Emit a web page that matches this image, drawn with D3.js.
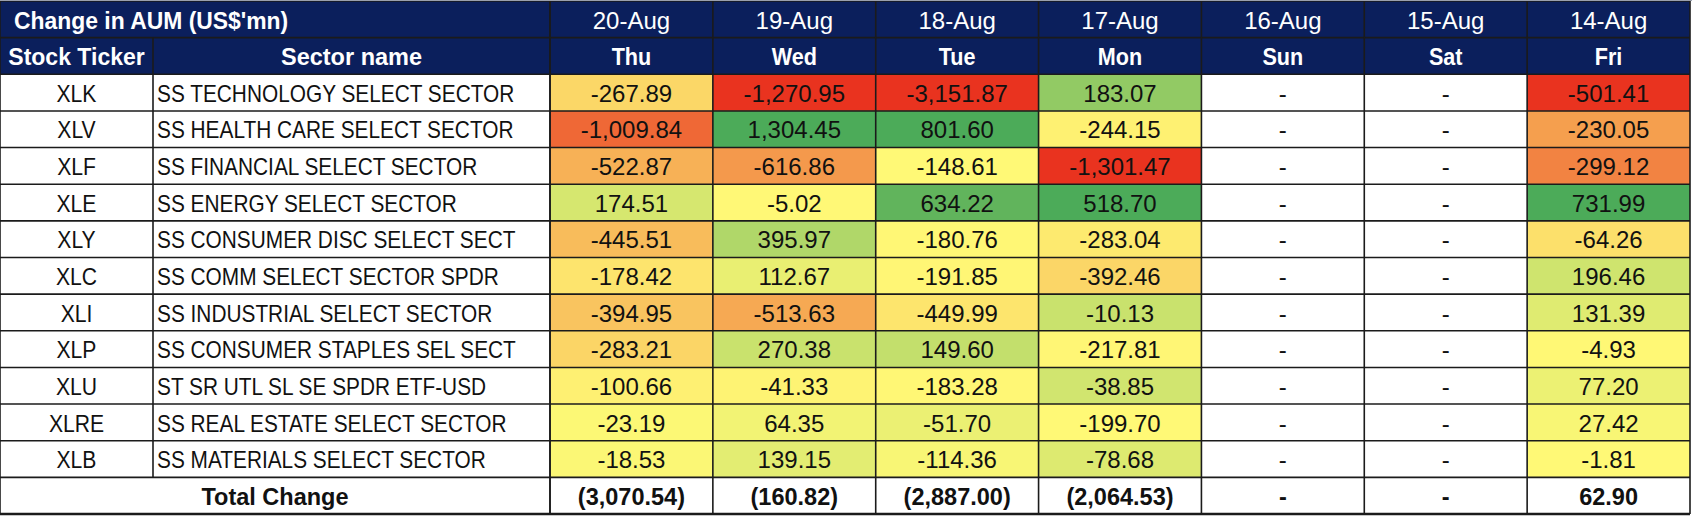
<!DOCTYPE html>
<html>
<head>
<meta charset="utf-8">
<script src="https://cdn.jsdelivr.net/npm/d3@7"></script>
<style>
  body { margin: 0; background: #fff; }
  svg text { font-family: "Liberation Sans", Arial, sans-serif; }
</style>
</head>
<body>
<svg width="1692" height="526"></svg>
<script>
const tickers = ["XLK","XLV","XLF","XLE","XLY","XLC","XLI","XLP","XLU","XLRE","XLB"];
const sectors = [
  "SS TECHNOLOGY SELECT SECTOR",
  "SS HEALTH CARE SELECT SECTOR",
  "SS FINANCIAL SELECT SECTOR",
  "SS ENERGY SELECT SECTOR",
  "SS CONSUMER DISC SELECT SECT",
  "SS COMM SELECT SECTOR SPDR",
  "SS INDUSTRIAL SELECT SECTOR",
  "SS CONSUMER STAPLES SEL SECT",
  "ST SR UTL SL SE SPDR ETF-USD",
  "SS REAL ESTATE SELECT SECTOR",
  "SS MATERIALS SELECT SECTOR"
];
const dates = ["20-Aug","19-Aug","18-Aug","17-Aug","16-Aug","15-Aug","14-Aug"];
const weekdays = ["Thu","Wed","Tue","Mon","Sun","Sat","Fri"];

// change in AUM, US$ mn, one array per day (rows follow tickers)
const aug20 = [-267.89, -1009.84, -522.87, 174.51, -445.51, -178.42, -394.95, -283.21, -100.66, -23.19, -18.53];
const aug19 = [-1270.95, 1304.45, -616.86, -5.02, 395.97, 112.67, -513.63, 270.38, -41.33, 64.35, 139.15];
const aug18 = [-3151.87, 801.60, -148.61, 634.22, -180.76, -191.85, -449.99, 149.60, -183.28, -51.70, -114.36];
const aug17 = [183.07, -244.15, -1301.47, 518.70, -283.04, -392.46, -10.13, -217.81, -38.85, -199.70, -78.68];
const aug16 = [null, null, null, null, null, null, null, null, null, null, null];
const aug15 = [null, null, null, null, null, null, null, null, null, null, null];
const aug14 = [-501.41, -230.05, -299.12, 731.99, -64.26, 196.46, 131.39, -4.93, 77.20, 27.42, -1.81];
const totals = [-3070.54, -160.82, -2887.00, -2064.53, null, null, 62.90];

// colour scale stops per day column (low / mid / high)
const scaleLow  = [-1365, -1270.95, -3151.87, -1301.47, null, null, -501.41];
const scaleMid  = [-40, 0, -148.61, -199.70, null, null, -1.81];
const scaleHigh = [893, 900, 740, 430, null, null, 731.99];

const columns = [aug20, aug19, aug18, aug17, aug16, aug15, aug14];

const navy = "#0b1f5c";
const lineCol = "#1b1b1b";
const ink = "#111";

const locale = d3.formatLocale({decimal: ".", thousands: ",", grouping: [3], currency: ["$", ""], minus: "-"});
const fmt = locale.format(",.2f");
const fmtTotal = v => v == null ? "-" : (v < 0 ? "(" + fmt(-v) + ")" : fmt(v));

const svg = d3.select("svg");

const rowKeys = ["head1", "head2"].concat(tickers, ["total"]);
const y = d3.scaleBand().domain(rowKeys).range([1, 514]);
const x = d3.scaleBand().domain(dates).range([550, 1690]);
const tickX = [0, 153];
const secX = [153, 550];
const rh = y.bandwidth();
const base = 27.5; // baseline offset inside a row

const colour = j => d3.scaleLinear()
  .domain([scaleLow[j], scaleMid[j], scaleHigh[j]])
  .range(["#e9331f", "#fff976", "#4cab59"])
  .clamp(true);

// text helper: sx squeezes the glyphs to get the narrow look
function label(sel, px, py, str, o) {
  o = o || {};
  return sel.append("text")
    .attr("transform", "translate(" + px + "," + py + ") scale(" + (o.sx || 1) + ",1)")
    .attr("text-anchor", o.anchor || "middle")
    .attr("font-size", o.size || 24)
    .attr("font-weight", o.bold ? "bold" : null)
    .attr("fill", o.fill || ink)
    .text(str);
}

// header background
svg.append("rect")
  .attr("x", 0).attr("y", y("head1"))
  .attr("width", 1690).attr("height", rh * 2)
  .attr("fill", navy);

const g = svg.append("g");

// data cells
columns.forEach((col, j) => {
  const c = colour(j);
  col.forEach((v, i) => {
    g.append("rect")
      .attr("x", x(dates[j])).attr("y", y(tickers[i]))
      .attr("width", x.bandwidth()).attr("height", rh)
      .attr("fill", v == null ? "#fff" : c(v));
    label(g, x(dates[j]) + x.bandwidth() / 2, y(tickers[i]) + base, v == null ? "-" : fmt(v));
  });
});

// tickers and sectors
tickers.forEach((t, i) => {
  label(g, (tickX[0] + tickX[1]) / 2, y(t) + base, t, {sx: 0.88});
  label(g, secX[0] + 4, y(t) + base, sectors[i], {sx: 0.868, anchor: "start"});
});

// totals row
label(g, (tickX[0] + secX[1]) / 2, y("total") + base, "Total Change", {bold: true, size: 23.5});
totals.forEach((v, j) => {
  label(g, x(dates[j]) + x.bandwidth() / 2, y("total") + base, fmtTotal(v), {bold: true, size: 23.5});
});

// header texts
label(g, 14, y("head1") + base, "Change in AUM (US$'mn)", {bold: true, size: 23.5, anchor: "start", fill: "#fff", sx: 0.975});
label(g, (tickX[0] + tickX[1]) / 2, y("head2") + base, "Stock Ticker", {bold: true, size: 23.5, fill: "#fff", sx: 0.98});
label(g, (secX[0] + secX[1]) / 2, y("head2") + base, "Sector name", {bold: true, size: 23.5, fill: "#fff"});
dates.forEach((d, j) => {
  label(g, x(d) + x.bandwidth() / 2, y("head1") + base, d, {size: 24, fill: "#fff"});
  label(g, x(d) + x.bandwidth() / 2, y("head2") + base, weekdays[j], {bold: true, size: 23.5, fill: "#fff", sx: 0.92});
});

// grid lines
const lines = svg.append("g")
  .attr("stroke", lineCol)
  .attr("stroke-width", 1.6);

rowKeys.forEach(k => {
  lines.append("line")
    .attr("x1", 0).attr("x2", 1690)
    .attr("y1", y(k)).attr("y2", y(k));
});
lines.append("line")
  .attr("x1", 0).attr("x2", 1690)
  .attr("y1", y("total") + rh).attr("y2", y("total") + rh)
  .attr("stroke-width", 2.4);

// vertical lines
[0, secX[1]].concat(dates.map(d => x(d)), [1690]).forEach(px => {
  lines.append("line")
    .attr("x1", px).attr("x2", px)
    .attr("y1", y("head1")).attr("y2", y("total") + rh);
});
lines.append("line")
  .attr("x1", tickX[1]).attr("x2", tickX[1])
  .attr("y1", y("head2")).attr("y2", y("total"));

// thin grey top edge
svg.append("line")
  .attr("x1", 0).attr("x2", 1692)
  .attr("y1", 0.5).attr("y2", 0.5)
  .attr("stroke", "#9aa0ad")
  .attr("stroke-width", 1);
</script>
</body>
</html>
